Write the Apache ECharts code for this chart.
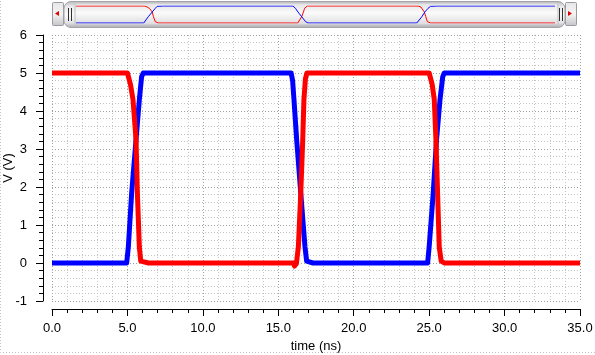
<!DOCTYPE html>
<html>
<head>
<meta charset="utf-8">
<script src="https://cdn.jsdelivr.net/npm/echarts@6/dist/echarts.min.js"></script>
<style>
html,body{margin:0;padding:0;background:#fff;}
#chart{width:595px;height:355px;}
</style>
</head>
<body>
<div id="chart"></div>
<script>
// ---- data (time in ns, voltage in V) ----
const redT = [0, 5.0, 5.1, 5.2, 5.37, 5.57, 5.66, 5.79, 5.88, 6.0, 6.4, 16.0, 16.08, 16.2, 16.33, 16.49, 16.62, 16.7, 16.8, 16.9, 17.0, 17.4, 25.0, 25.08, 25.2, 25.34, 25.45, 25.56, 25.67, 25.8, 25.9, 26.0, 26.4, 35.0];
const redV = [5, 5, 4.95, 4.7, 4.3, 3.24, 1.84, 0.42, 0.05, 0, 0, 0, -0.08, -0.02, 0.42, 1.84, 3.24, 4.3, 4.85, 5.0, 5.0, 5.0, 5.0, 4.95, 4.7, 4.3, 3.24, 1.84, 0.42, 0.05, 0, 0, 0, 0];
const blueT = [0, 4.95, 5.06, 5.28, 5.57, 5.79, 5.94, 6.05, 6.4, 15.85, 15.95, 16.04, 16.22, 16.49, 16.77, 16.88, 16.95, 17.3, 24.9, 25.0, 25.27, 25.49, 25.72, 25.9, 26.0, 26.4, 35.0];
const blueV = [0, 0, 0.42, 1.84, 3.24, 4.3, 4.9, 5, 5, 5, 4.8, 4.3, 3.24, 1.84, 0.42, 0.05, 0, 0, 0, 0.42, 1.84, 3.24, 4.3, 4.9, 5, 5, 5];
const xTickLabels = ['0.0', '5.0', '10.0', '15.0', '20.0', '25.0', '30.0', '35.0'];
const xName = 'time (ns)';
const yName = 'V (V)';

const pairs = (t, v) => t.map((x, i) => [x, v[i]]);
const FONT = 'Liberation Sans';

const chart = echarts.init(document.getElementById('chart'), null, {renderer: 'canvas'});

const grad = (stops) => new echarts.graphic.LinearGradient(0, 0, 0, 1, stops);
const thumbFill = grad([
  {offset: 0, color: '#b8b8bc'}, {offset: 0.2, color: '#e8e8ea'},
  {offset: 0.5, color: '#fafafa'}, {offset: 0.8, color: '#e4e4e6'},
  {offset: 1, color: '#a8a8ac'}
]);
const btnFill = grad([
  {offset: 0, color: '#e6e6e8'}, {offset: 0.5, color: '#f4f4f4'}, {offset: 1, color: '#c4c4c8'}
]);

chart.setOption({
  animation: false,
  backgroundColor: '#ffffff',
  textStyle: {fontFamily: FONT},
  graphic: [
    {type: 'rect', z: -5, silent: true, shape: {x: 0.5, y: -2, width: 600, height: 354.5},
      style: {fill: 'none', stroke: '#cdbccd', lineWidth: 1, lineDash: [1, 2]}},
    // scrollbar buttons
    {type: 'rect', z: 0, shape: {x: 52.5, y: 2.5, width: 11, height: 23, r: 1},
      style: {fill: btnFill, stroke: '#9a9aa0', lineWidth: 1}},
    {type: 'polygon', z: 1, shape: {points: [[55, 13.5], [59, 11], [59, 16]]}, style: {fill: '#e00000'}},
    {type: 'rect', z: 0, shape: {x: 565.5, y: 2.5, width: 11, height: 23, r: 1},
      style: {fill: btnFill, stroke: '#9a9aa0', lineWidth: 1}},
    {type: 'polygon', z: 1, shape: {points: [[572, 13.5], [568, 11], [568, 16]]}, style: {fill: '#e00000'}},
    // thumb
    {type: 'rect', z: 0, shape: {x: 64, y: 1.5, width: 501, height: 26, r: 7},
      style: {fill: thumbFill, stroke: '#a4a4a8', lineWidth: 1}},
    {type: 'rect', z: 0, shape: {x: 75, y: 3, width: 483, height: 22},
      style: {fill: grad([{offset: 0, color: '#e0e0e2'}, {offset: 0.45, color: '#fbfbfb'}, {offset: 1, color: '#dadadc'}]), stroke: '#c0c0c4', lineWidth: 1}},
    // grips
    {type: 'line', z: 1, shape: {x1: 68.5, y1: 8, x2: 68.5, y2: 21}, style: {stroke: '#303030', lineWidth: 1}},
    {type: 'line', z: 1, shape: {x1: 71.5, y1: 8, x2: 71.5, y2: 21}, style: {stroke: '#303030', lineWidth: 1}},
    {type: 'line', z: 1, shape: {x1: 559.5, y1: 8, x2: 559.5, y2: 21}, style: {stroke: '#303030', lineWidth: 1}},
    {type: 'line', z: 1, shape: {x1: 562.5, y1: 8, x2: 562.5, y2: 21}, style: {stroke: '#303030', lineWidth: 1}}
  ],
  grid: [
    {left: 52, right: 15, top: 35, bottom: 54, show: false, containLabel: false, outerBoundsMode: 'none'},
    {left: 76, right: 40, top: 6, height: 17, show: false, containLabel: false, outerBoundsMode: 'none'}
  ],
  xAxis: [
    {
      type: 'value', gridIndex: 0, min: 0, max: 35, interval: 5, offset: 8,
      name: xName, nameLocation: 'middle', nameGap: 31,
      nameTextStyle: {color: '#000', fontSize: 13, fontFamily: FONT},
      axisLine: {show: true, onZero: false, lineStyle: {color: '#000', width: 1}},
      axisTick: {show: true, length: 7, lineStyle: {color: '#000'}},
      minorTick: {show: true, splitNumber: 5, length: 4, lineStyle: {color: '#000'}},
      axisLabel: {color: '#000', fontSize: 13, margin: 13, fontFamily: FONT,
        formatter: (v) => xTickLabels[Math.round(v / 5)] || v.toFixed(1)},
      splitLine: {show: true, lineStyle: {color: '#9aa59a', type: [1, 2], width: 1}},
      minorSplitLine: {show: true, lineStyle: {color: '#c4c4c4', type: [1, 2], width: 1}}
    },
    {
      type: 'value', gridIndex: 1, min: 0, max: 35, show: false
    }
  ],
  yAxis: [
    {
      type: 'value', gridIndex: 0, min: -1, max: 6, interval: 1, offset: 9,
      name: yName, nameLocation: 'middle', nameGap: 28, nameRotate: 90, nameMoveOverlap: false,
      nameTextStyle: {color: '#000', fontSize: 13, fontFamily: FONT},
      axisLine: {show: true, onZero: false, lineStyle: {color: '#000', width: 1}},
      axisTick: {show: true, length: 7, lineStyle: {color: '#000'}},
      minorTick: {show: true, splitNumber: 5, length: 4, lineStyle: {color: '#000'}},
      axisLabel: {color: '#000', fontSize: 13, margin: 16, fontFamily: FONT},
      splitLine: {show: true, lineStyle: {color: '#9aa59a', type: [1, 2], width: 1}},
      minorSplitLine: {show: true, lineStyle: {color: '#c4c4c4', type: [1, 2], width: 1}}
    },
    {
      type: 'value', gridIndex: 1, min: 0, max: 5, show: false
    }
  ],
  series: [
    {type: 'line', xAxisIndex: 0, yAxisIndex: 0, data: pairs(blueT, blueV), showSymbol: false,
      lineStyle: {color: '#0000ff', width: 5, join: 'round'}, z: 3},
    {type: 'line', xAxisIndex: 0, yAxisIndex: 0, data: pairs(redT, redV), showSymbol: false,
      lineStyle: {color: '#ff0000', width: 5, join: 'round'}, z: 4},
    {type: 'line', xAxisIndex: 1, yAxisIndex: 1, data: pairs(redT, redV), showSymbol: false,
      lineStyle: {color: '#ff0000', width: 1}, z: 5},
    {type: 'line', xAxisIndex: 1, yAxisIndex: 1, data: pairs(blueT, blueV), showSymbol: false,
      lineStyle: {color: '#0000ff', width: 1}, z: 5}
  ]
});
</script>
</body>
</html>
